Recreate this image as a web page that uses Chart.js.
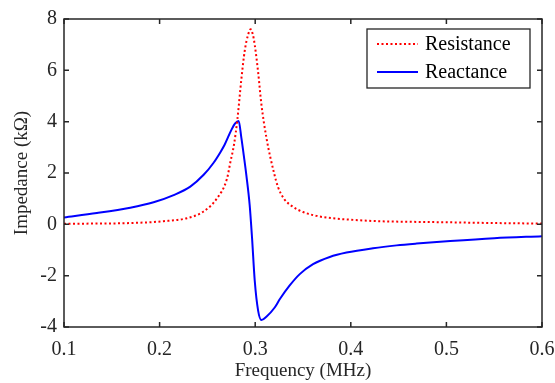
<!DOCTYPE html>
<html>
<head>
<meta charset="utf-8">
<script src="https://cdn.jsdelivr.net/npm/chart.js@4.4.1/dist/chart.umd.min.js"></script>
<style>
  html, body { margin: 0; padding: 0; background: #fff; }
  #wrap { width: 555px; height: 383px; }
</style>
</head>
<body>
<div id="wrap"><canvas id="impChart"></canvas></div>
<script>
// values
const resFreq = [0.10, 0.13, 0.17, 0.204, 0.2286, 0.246, 0.26, 0.2705, 0.274, 0.2778, 0.2814, 0.2855, 0.289,
  0.2925, 0.2953, 0.2975, 0.2995, 0.303, 0.3065, 0.3117, 0.3197, 0.3239, 0.33, 0.338, 0.35, 0.364, 0.38,
  0.40, 0.43, 0.46, 0.50, 0.55, 0.60];
const resistance = [0.02, 0.03, 0.05, 0.12, 0.24, 0.5, 1.01, 1.78, 2.42, 3.1, 4.1, 5.65, 6.75,
  7.38, 7.6, 7.4, 7.0, 5.95, 4.67, 3.38, 2.0, 1.45, 1.0, 0.72, 0.48, 0.33, 0.24,
  0.18, 0.12, 0.10, 0.08, 0.05, 0.03];

const reaFreq = [0.10, 0.1344, 0.1693, 0.1937, 0.2147, 0.2321, 0.2461, 0.2565, 0.2636, 0.268, 0.2751, 0.279,
  0.2827, 0.2855, 0.2883, 0.2908, 0.2942, 0.2967, 0.2995, 0.303, 0.3065, 0.3117, 0.3204, 0.326, 0.3361,
  0.3466, 0.3605, 0.378, 0.3955, 0.4233, 0.4479, 0.4688, 0.504, 0.55, 0.60];
const reactance = [0.27, 0.44, 0.65, 0.86, 1.14, 1.47, 1.93, 2.4, 2.81, 3.1, 3.68, 3.93,
  4.03, 3.38, 2.62, 1.9, 0.76, -0.53, -2.19, -3.35, -3.73, -3.6, -3.24, -2.9, -2.38,
  -1.94, -1.55, -1.27, -1.10, -0.93, -0.82, -0.75, -0.65, -0.54, -0.46];

const xTicks = [0.1, 0.2, 0.3, 0.4, 0.5, 0.6];
const yTicks = [-4, -2, 0, 2, 4, 6, 8];

const axisColor = '#262626';
const serif = "'Liberation Serif', 'DejaVu Serif', serif";

const toPoints = (xs, ys) => xs.map((x, i) => ({ x: x, y: ys[i] }));

// box round the plot, inward ticks on all four sides, legend inside
const framePlugin = {
  id: 'frame',
  afterDraw(chart) {
    const { ctx, chartArea: a, scales } = chart;
    const len = 5;
    ctx.save();
    ctx.strokeStyle = axisColor;
    ctx.lineWidth = 1.5;
    ctx.beginPath();
    xTicks.forEach(v => {
      const px = scales.x.getPixelForValue(v);
      ctx.moveTo(px, a.bottom); ctx.lineTo(px, a.bottom - len);
      ctx.moveTo(px, a.top); ctx.lineTo(px, a.top + len);
    });
    yTicks.forEach(v => {
      const py = scales.y.getPixelForValue(v);
      ctx.moveTo(a.left, py); ctx.lineTo(a.left + len, py);
      ctx.moveTo(a.right, py); ctx.lineTo(a.right - len, py);
    });
    ctx.stroke();
    ctx.strokeRect(a.left, a.top, a.right - a.left, a.bottom - a.top);

    // legend
    const bx = 367, by = 29, bw = 163, bh = 59;
    ctx.fillStyle = '#fff';
    ctx.fillRect(bx, by, bw, bh);
    ctx.lineWidth = 1.3;
    ctx.strokeStyle = axisColor;
    ctx.strokeRect(bx, by, bw, bh);
    ctx.font = '20px ' + serif;
    ctx.textBaseline = 'middle';
    chart.data.datasets.forEach((ds, i) => {
      const y = by + 15 + i * 28;
      ctx.beginPath();
      ctx.strokeStyle = ds.borderColor;
      ctx.lineWidth = ds.borderWidth;
      ctx.setLineDash(ds.borderDash || []);
      ctx.moveTo(bx + 10, y);
      ctx.lineTo(bx + 51, y);
      ctx.stroke();
      ctx.setLineDash([]);
      ctx.fillStyle = '#000';
      ctx.fillText(ds.label, bx + 58, y + 1);
    });
    ctx.restore();
  }
};

new Chart(document.getElementById('impChart'), {
  type: 'line',
  data: {
    datasets: [
      {
        label: 'Resistance',
        data: toPoints(resFreq, resistance),
        borderColor: '#ff0000',
        borderWidth: 2,
        borderDash: [2, 2.5],
        pointRadius: 0,
        cubicInterpolationMode: 'monotone',
        fill: false
      },
      {
        label: 'Reactance',
        data: toPoints(reaFreq, reactance),
        borderColor: '#0000ff',
        borderWidth: 2,
        pointRadius: 0,
        cubicInterpolationMode: 'monotone',
        fill: false
      }
    ]
  },
  options: {
    responsive: true,
    maintainAspectRatio: false,
    animation: false,
    layout: { padding: { top: 15, right: 13, left: 0, bottom: 0 } },
    plugins: {
      legend: { display: false },
      tooltip: { enabled: false }
    },
    scales: {
      x: {
        type: 'linear',
        min: 0.1,
        max: 0.6,
        afterBuildTicks: s => { s.ticks = xTicks.map(v => ({ value: v })); },
        afterFit: s => { s.height = 56; s.paddingLeft = 0; s.paddingRight = 0; },
        grid: { display: false, drawTicks: false },
        border: { display: false },
        ticks: {
          color: axisColor,
          padding: 11,
          maxRotation: 0,
          font: { family: serif, size: 20 },
          callback: v => v.toFixed(1)
        },
        title: {
          display: true,
          text: 'Frequency (MHz)',
          color: axisColor,
          padding: { top: 0, bottom: 1 },
          font: { family: serif, size: 19 }
        }
      },
      y: {
        min: -4,
        max: 8,
        afterBuildTicks: s => { s.ticks = yTicks.map(v => ({ value: v })); },
        afterFit: s => { s.width = 64; },
        grid: { display: false, drawTicks: false },
        border: { display: false },
        ticks: {
          color: axisColor,
          padding: 7,
          font: { family: serif, size: 20 },
          callback: v => String(v)
        },
        title: {
          display: true,
          text: 'Impedance (kΩ)',
          color: axisColor,
          padding: { top: 11, bottom: 0 },
          font: { family: serif, size: 19 }
        }
      }
    }
  },
  plugins: [framePlugin]
});
</script>
</body>
</html>
